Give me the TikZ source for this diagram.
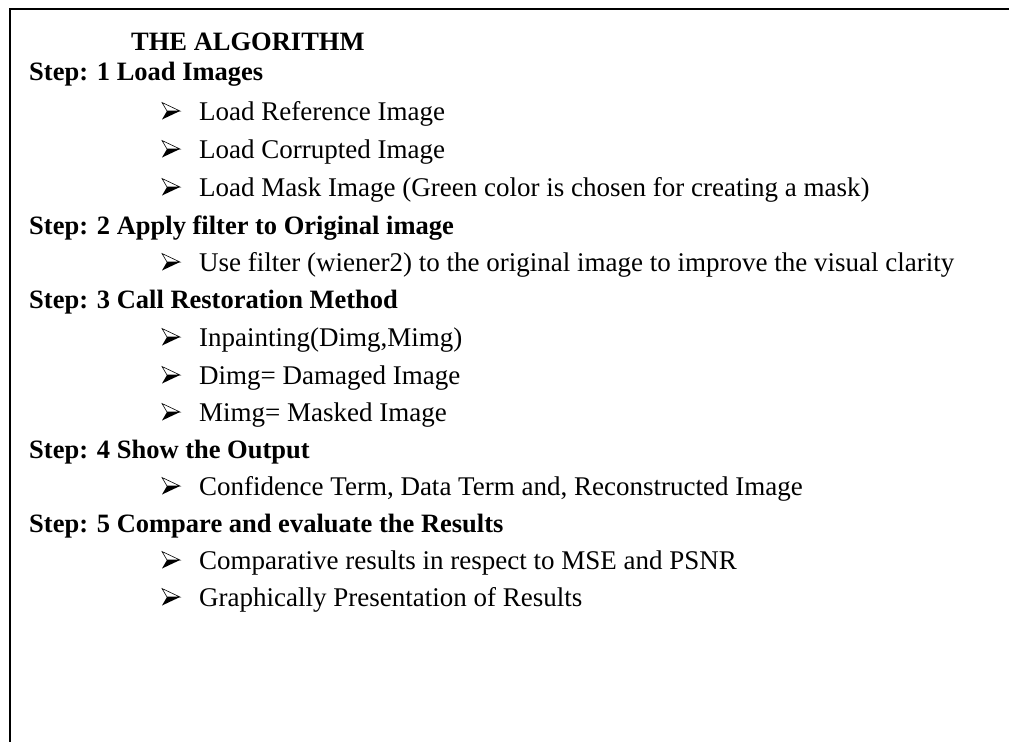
\documentclass[tikz,border=0pt]{standalone}
\usepackage{fontspec}
\setmainfont{Liberation Serif}
\usetikzlibrary{calc}

\begin{document}
\begin{tikzpicture}[x=1pt, y=1pt,
    steptext/.style={anchor=base west, inner sep=0pt, font=\fontsize{26.5}{30}\selectfont\bfseries},
    itemtext/.style={anchor=base west, inner sep=0pt, font=\fontsize{27}{30}\selectfont},
    arrowbullet/.pic={
        \draw[line width=0.6pt, line join=miter] (0,8.5) -- (18,0) -- (5,0) -- cycle;
        \fill (5,0) -- (18,0) -- (0,-8.5) -- cycle;
    }]
    \useasboundingbox (0,0) rectangle (1009,-742);

    % Frame, open on the right and at the bottom
    \draw[line width=2.6pt] (1009,-9) -- (10,-9) -- (10,-742);

    % Title
    \node[steptext] (title) at (131,-50) {THE ALGORITHM};

    % Step 1
    \node[steptext] (step1) at (29,-80) {Step: 1 Load Images};
    \node[itemtext] (ref) at (199,-120) {Load Reference Image};
    \node[itemtext] (corr) at (199,-158) {Load Corrupted Image};
    \node[itemtext] (mask) at (199,-196) {Load Mask Image (Green color is chosen for creating a mask)};

    % Step 2
    \node[steptext] (step2) at (29,-234) {Step: 2 Apply filter to Original image};
    \node[itemtext] (filt) at (199,-271) {Use filter (wiener2) to the original image to improve the visual clarity};

    % Step 3
    \node[steptext] (step3) at (29,-308) {Step: 3 Call Restoration Method};
    \node[itemtext] (inp) at (199,-346) {Inpainting(Dimg,Mimg)};
    \node[itemtext] (dimg) at (199,-384) {Dimg= Damaged Image};
    \node[itemtext] (mimg) at (199,-421) {Mimg= Masked Image};

    % Step 4
    \node[steptext] (step4) at (29,-458) {Step: 4 Show the Output};
    \node[itemtext] (conf) at (199,-495) {Confidence Term, Data Term and, Reconstructed Image};

    % Step 5
    \node[steptext] (step5) at (29,-532) {Step: 5 Compare and evaluate the Results};
    \node[itemtext] (comp) at (199,-569) {Comparative results in respect to MSE and PSNR};
    \node[itemtext] (graph) at (199,-606) {Graphically Presentation of Results};

    % Arrow bullets
    \foreach \n in {ref,corr,mask,filt,inp,dimg,mimg,conf,comp,graph}
        \pic at ($(\n.base west)+(-37,9)$) {arrowbullet};
\end{tikzpicture}
\end{document}
